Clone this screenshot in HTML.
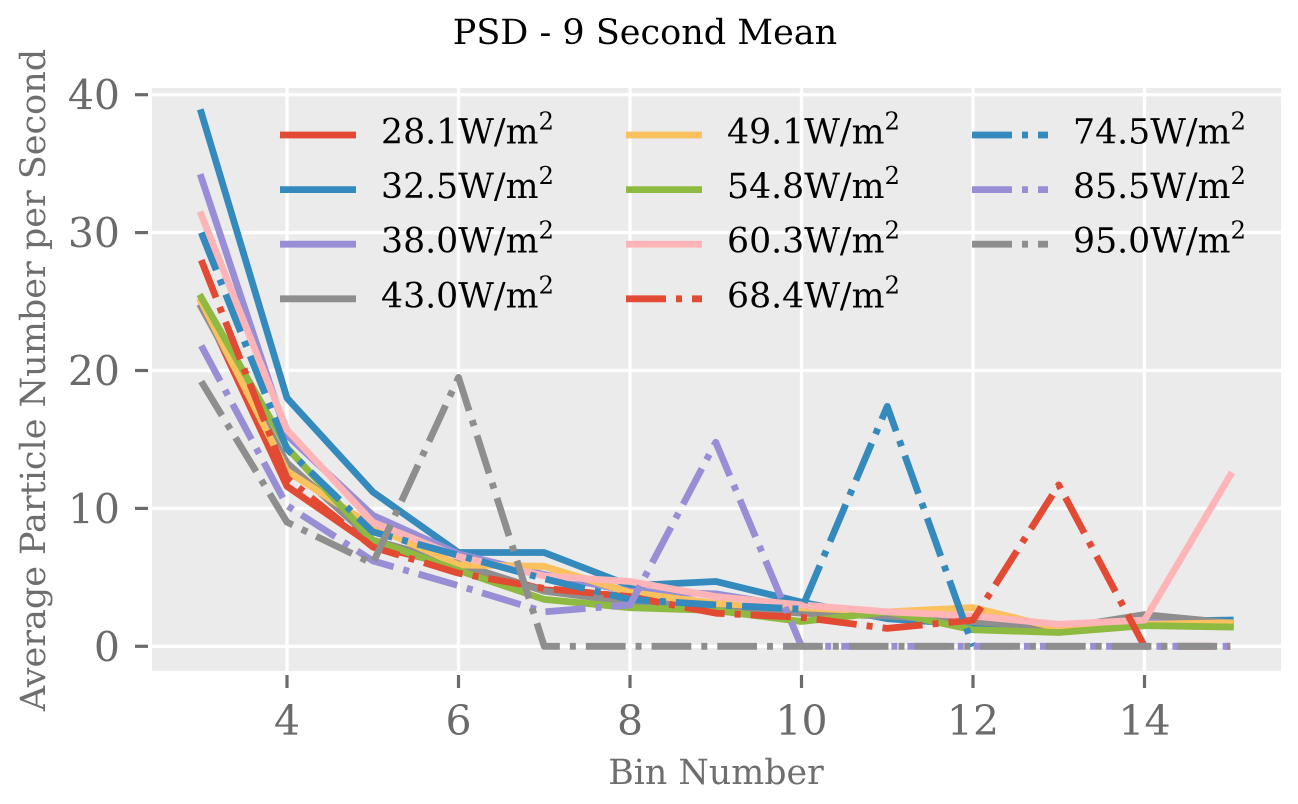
<!DOCTYPE html>
<html lang="en">
<head>
<meta charset="utf-8">
<title>PSD - 9 Second Mean</title>
<style>
html,body{margin:0;padding:0;background:#fff;width:1298px;height:804px;overflow:hidden}
svg{display:block}
text{font-family:"DejaVu Serif","Liberation Serif",serif}
</style>
</head>
<body>
<svg id="chart" xmlns="http://www.w3.org/2000/svg" width="1298" height="804" viewBox="0 0 1298 804">
<rect x="152" y="88" width="1129" height="583" fill="#ebebeb"/>
<g id="grid"></g>
<g id="ticks"></g>
<g id="series"></g>
<g id="legend"></g>
<text x="645" y="44" text-anchor="middle" font-size="35" fill="#000">PSD - 9 Second Mean</text>
<text x="716" y="784" text-anchor="middle" font-size="34.8" fill="#6e6e6e">Bin Number</text>
<text transform="translate(45,380) rotate(-90)" text-anchor="middle" font-size="35" fill="#6e6e6e">Average Particle Number per Second</text>
</svg>
<script>
const bins = [3,4,5,6,7,8,9,10,11,12,13,14,15];
const xTickLabels = [4,6,8,10,12,14];
const yTickLabels = [0,10,20,30,40];
const legendLabels = ["28.1","32.5","38.0","43.0","49.1","54.8","60.3","68.4","74.5","85.5","95.0"];
const seriesColors = ["#e24a33","#348abd","#988ed5","#8e8e8e","#fbc15e","#8eba42","#ffb5b8","#e24a33","#348abd","#988ed5","#8e8e8e"];
const seriesDashed = [false,false,false,false,false,false,false,true,true,true,true];
const dashLong = [0,0,0,0,0,0,0,40.3,40.39,40.23,39.73];
const s281 = [25,11.6,7.3,5.8,4.1,3.6,2.8,2.5,2.3,1.6,1.1,1.5,1.5];
const s325 = [38.7,18,11.2,6.8,6.8,4.4,4.7,3.2,2.0,1.6,1.2,1.8,1.9];
const s380 = [34,15.3,9.5,6.7,5.2,4.0,3.8,2.8,2.3,1.8,1.5,1.9,1.7];
const s430 = [24.6,13.3,7.7,6.0,4.0,3.2,2.9,2.4,2.2,1.8,1.3,2.3,1.7];
const s491 = [25,12.7,8.7,5.9,5.8,3.9,3.1,2.8,2.5,2.8,1.3,1.6,1.7];
const s548 = [25.3,14.4,7.7,5.5,3.4,2.8,2.6,1.8,2.5,1.2,1.0,1.5,1.4];
const s603 = [31.3,15.7,9.0,6.5,5.1,4.7,3.6,3.0,2.5,2.2,1.6,1.9,12.4];
const s684 = [28,12.2,7.2,5.3,4.2,3.6,2.4,2.1,1.3,1.9,11.7,0,0];
const s745 = [30,14.3,8.3,6.6,4.9,3.4,3.0,2.7,17.4,0];
const s855 = [21.8,10.2,6.2,4.4,2.5,3.0,14.8,0,0,0,0,0,0];
const s950 = [19.2,9,6,19.5,0,0,0,0,0,0,0,0,0];
const allSeries = [s281,s325,s380,s430,s491,s548,s603,s684,s745,s855,s950];

const NS = "http://www.w3.org/2000/svg";
const plot = {left:152, right:1281, top:88, bottom:671};
function xScale(v){ return 287 + (v - 4) * 85.75; }
function yScale(v){ return 646.3 - v * 13.79; }
function make(tag, attrs, parent){
  const el = document.createElementNS(NS, tag);
  for (const k in attrs) el.setAttribute(k, attrs[k]);
  parent.appendChild(el);
  return el;
}
const grid = document.getElementById("grid");
const ticks = document.getElementById("ticks");
const seriesG = document.getElementById("series");
const legend = document.getElementById("legend");
const tickColor = "#6b6b6b";
const lineWidth = 6.8;

xTickLabels.forEach(function(t){
  const x = xScale(t);
  const g = make("line", {x1:x, x2:x, y1:plot.top, y2:plot.bottom, stroke:"#fff", "stroke-width":3.3}, grid);
  
  
  const m = make("line", {x1:x, x2:x, y1:675, y2:688, stroke:tickColor, "stroke-width":3.2}, ticks);
  
  
  const l = make("text", {x:x, y:735, "text-anchor":"middle", "font-size":41, fill:tickColor}, ticks);
  
  
  l.textContent = t;
});
yTickLabels.forEach(function(t){
  const y = yScale(t);
  const g = make("line", {x1:plot.left, x2:plot.right, y1:y, y2:y, stroke:"#fff", "stroke-width":3.3}, grid);
  
  
  const m = make("line", {x1:135, x2:148, y1:y, y2:y, stroke:tickColor, "stroke-width":3.2}, ticks);
  
  
  const l = make("text", {x:120, y:y + 15, "text-anchor":"end", "font-size":41, fill:tickColor}, ticks);
  
  
  l.textContent = t;
});
allSeries.forEach(function(vals, i){
  const pts = vals.map(function(v, j){ return xScale(bins[j]).toFixed(2) + "," + yScale(v).toFixed(2); }).join(" ");
  const attrs = {points:pts, fill:"none", stroke:seriesColors[i], "stroke-width":lineWidth, "stroke-linejoin":"round"};
  if (seriesDashed[i]) {
    attrs["stroke-dasharray"] = dashLong[i] + " 10 6 10";
    attrs["stroke-linecap"] = "butt";
  } else {
    attrs["stroke-linecap"] = "square";
  }
  const line = make("polyline", attrs, seriesG);
  
  
});
legendLabels.forEach(function(lab, i){
  const col = i < 4 ? 0 : (i < 8 ? 1 : 2);
  const row = i < 4 ? i : (i < 8 ? i - 4 : i - 8);
  const lx = 280 + col * 346;
  const ly = 135 + row * 54.6;
  const attrs = {x1:lx, x2:lx + 76, y1:ly, y2:ly, stroke:seriesColors[i], "stroke-width":lineWidth};
  if (seriesDashed[i]) attrs["stroke-dasharray"] = "40 10 6 10";
  const h = make("line", attrs, legend);
  
  
  const t = make("text", {x:lx + 101, y:ly + 8.5, "font-size":34.7, fill:"#000"}, legend);
  
  
  t.appendChild(document.createTextNode(lab + "W/m"));
  const sup = make("tspan", {dy:-14, "font-size":24.3}, t);
  sup.textContent = "2";
});
</script>
</body>
</html>
